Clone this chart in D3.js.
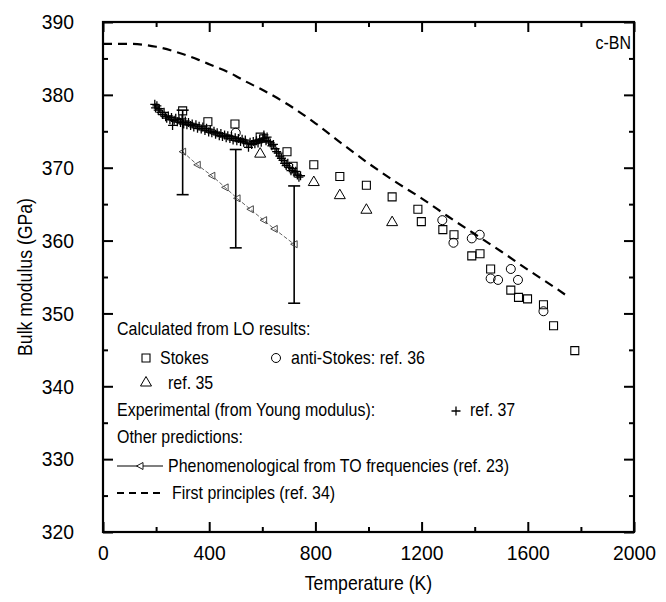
<!DOCTYPE html>
<html>
<head>
<meta charset="utf-8">
<script src="https://cdn.jsdelivr.net/npm/d3@7"></script>
<style>
body { margin: 0; background: #fff; }
text { font-family: "Liberation Sans", Arial, sans-serif; fill: #000; }
</style>
</head>
<body>
<main></main>
<script>
var width = 666;
var height = 602;
var margin = {top: 22, right: 32, bottom: 70, left: 103};

// axis ticks
var xTicks = [0, 400, 800, 1200, 1600, 2000];
var xMinor = [200, 600, 1000, 1400, 1800];
var yTicks = [320, 330, 340, 350, 360, 370, 380, 390];
var yMinor = [325, 335, 345, 355, 365, 375, 385];

// LO results, Stokes (ref. 36)
var stokesT = [300, 395, 497, 592, 693, 716, 794, 892, 992, 1089, 1186, 1199, 1280, 1322, 1389, 1420, 1460, 1536, 1565, 1599, 1659, 1697, 1777];
var stokesB = [377.8, 376.3, 376.0, 374.2, 372.2, 370.2, 370.4, 368.8, 367.6, 366.0, 364.3, 362.6, 361.5, 360.8, 357.9, 358.2, 356.1, 353.2, 352.2, 352.0, 351.2, 348.3, 344.9];

// LO results, anti-Stokes (ref. 36)
var antiT = [500, 1278, 1320, 1389, 1419, 1460, 1488, 1536, 1563, 1659];
var antiB = [374.8, 362.8, 359.7, 360.3, 360.8, 354.8, 354.6, 356.1, 354.6, 350.3];

// ref. 35
var ref35T = [592, 794, 892, 992, 1089];
var ref35B = [372.0, 368.1, 366.3, 364.3, 362.6];

// experimental, from Young modulus (ref. 37)
var expT = [195, 198, 203, 208, 212, 218, 224, 230, 236, 240, 246, 252, 258, 262, 268, 274, 280, 286, 292, 298,
  304, 310, 316, 322, 330, 336, 342, 350, 356, 362, 370, 376, 384, 390, 398, 404, 410, 418, 424, 430,
  438, 444, 450, 458, 464, 470, 478, 484, 490, 498, 504, 510, 518, 524, 530, 536, 542, 548, 554, 560,
  566, 572, 578, 584, 590, 596, 602, 606, 610, 614, 618, 624, 630, 636, 642, 648, 654, 660, 666, 672,
  678, 684, 690, 696, 702, 708, 714, 720, 726, 732, 738, 744];
var expB = [378.7, 378.2, 378.5, 377.9, 378.1, 377.6, 377.3, 377.6, 377.0, 376.8, 377.1, 376.6, 376.9, 375.8, 376.5, 376.8, 376.3, 376.6, 376.2, 376.7,
  376.0, 376.4, 375.9, 376.2, 375.8, 376.0, 375.6, 375.9, 375.4, 375.7, 375.3, 375.6, 375.1, 375.4, 374.9, 375.2, 374.8, 375.0, 374.6, 374.8,
  374.4, 374.7, 374.3, 374.5, 374.1, 374.4, 374.0, 374.3, 373.8, 374.1, 373.7, 374.0, 373.6, 373.9, 373.5, 373.8, 373.3, 372.8, 373.5, 373.2,
  373.6, 373.3, 373.7, 373.4, 373.9, 373.5, 374.0, 374.5, 374.1, 373.7, 374.2, 373.6, 373.4, 373.0, 373.2, 372.6, 372.2, 372.0, 371.6, 371.3,
  371.0, 370.6, 370.3, 370.6, 370.0, 369.6, 369.9, 369.3, 369.5, 369.0, 368.7, 368.9];

// phenomenological from TO frequencies (ref. 23)
var phenT = [300, 355, 410, 460, 505, 555, 605, 645, 720];
var phenB = [372.2, 370.4, 368.9, 367.3, 365.8, 364.3, 362.8, 361.6, 359.5];
var errT = [300, 500, 720];
var errLow = [366.3, 359.0, 351.4];
var errHigh = [377.9, 372.5, 367.5];

// first principles (ref. 34)
var fpT = [0, 100, 200, 300, 360, 400, 500, 529, 600, 700, 800, 900, 1000, 1100, 1200, 1300, 1400, 1500, 1600, 1700, 1740];
var fpB = [387.0, 387.0, 386.6, 385.6, 384.8, 384.2, 382.6, 382.0, 380.7, 378.6, 376.1, 373.3, 370.6, 368.1, 365.8, 363.3, 360.9, 358.5, 356.0, 353.6, 352.6];

var svg = d3.select('main').append('svg')
  .attr('width', width)
  .attr('height', height);

svg.append('rect')
  .attr('width', width)
  .attr('height', height)
  .attr('fill', '#fff');

var x = d3.scaleLinear().domain([0, 2000]).range([margin.left, width - margin.right]);
var y = d3.scaleLinear().domain([320, 390]).range([height - margin.bottom, margin.top]);

function zip(a, b) {
  return a.map(function(v, i) { return [v, b[i]]; });
}

// ticks on all four sides, pointing inwards
function addAxis(axis, tx, ty, values, size, labels, pad) {
  var g = svg.append('g')
    .attr('transform', 'translate(' + tx + ',' + ty + ')')
    .call(axis.tickValues(values).tickSize(-size).tickPadding(pad || 4)
      .tickFormat(labels ? d3.format('d') : ''));
  g.select('.domain').remove();
  g.selectAll('.tick line').attr('stroke', '#000').attr('stroke-width', 2);
  g.selectAll('.tick text').style('font-size', '21px').attr('fill', '#000').classed('tk', true);
  return g;
}

var bottom = height - margin.bottom, right = width - margin.right;
addAxis(d3.axisBottom(x), 0, bottom, xTicks, 10, true, 13);
addAxis(d3.axisBottom(x), 0, bottom, xMinor, 5, false);
addAxis(d3.axisTop(x), 0, margin.top, xTicks, 10, false);
addAxis(d3.axisTop(x), 0, margin.top, xMinor, 5, false);
addAxis(d3.axisLeft(y), margin.left, 0, yTicks, 10, true, 29);
addAxis(d3.axisLeft(y), margin.left, 0, yMinor, 5, false);
addAxis(d3.axisRight(y), right, 0, yTicks, 10, false);
addAxis(d3.axisRight(y), right, 0, yMinor, 5, false);

svg.append('rect')
  .attr('x', margin.left)
  .attr('y', margin.top)
  .attr('width', right - margin.left)
  .attr('height', bottom - margin.top)
  .attr('fill', 'none')
  .attr('stroke', '#000')
  .attr('stroke-width', 2.2);

// axis titles
svg.append('text')
  .attr('x', (margin.left + right) / 2)
  .attr('y', 590)
  .attr('text-anchor', 'middle')
  .style('font-size', '21px')
  .text('Temperature (K)');

svg.append('text')
  .attr('transform', 'translate(32,' + (margin.top + bottom) / 2 + ') rotate(-90)')
  .attr('text-anchor', 'middle')
  .style('font-size', '21px')
  .text('Bulk modulus (GPa)');

svg.append('text')
  .attr('x', 631)
  .attr('y', 49)
  .attr('text-anchor', 'end')
  .style('font-size', '19px')
  .text('c-BN');

var line = d3.line()
  .x(function(d) { return x(d[0]); })
  .y(function(d) { return y(d[1]); });

// first principles curve
svg.append('path')
  .datum(zip(fpT, fpB))
  .attr('d', line.curve(d3.curveMonotoneX))
  .attr('fill', 'none')
  .attr('stroke', '#000')
  .attr('stroke-width', 2.2)
  .attr('stroke-dasharray', '9,6');

// marker shapes
var sqPath = 'M-4,-4H4V4H-4Z';
var triPath = 'M0,-5.5L5.5,4L-5.5,4Z';
var leftTri = 'M-3.5,0L3,-3.5L3,3.5Z';
var crossPath = 'M-4.5,0H4.5M0,-4.5V4.5';

function markers(t, b, path, stroke, sw) {
  svg.append('g').selectAll('path')
    .data(zip(t, b))
    .enter().append('path')
    .attr('transform', function(d) { return 'translate(' + x(d[0]) + ',' + y(d[1]) + ')'; })
    .attr('d', path)
    .attr('fill', 'none')
    .attr('stroke', stroke)
    .attr('stroke-width', sw);
}

// phenomenological line + error bars
svg.append('path')
  .datum(zip(phenT, phenB))
  .attr('d', line.curve(d3.curveLinear))
  .attr('fill', 'none')
  .attr('stroke', '#555')
  .attr('stroke-width', 0.9)
  .attr('stroke-dasharray', '4,2');

var eb = svg.append('g').attr('stroke', '#000').attr('stroke-width', 1.6);
errT.forEach(function(t, i) {
  eb.append('line').attr('x1', x(t)).attr('x2', x(t)).attr('y1', y(errLow[i])).attr('y2', y(errHigh[i]));
  [errLow[i], errHigh[i]].forEach(function(v) {
    eb.append('line').attr('x1', x(t) - 6).attr('x2', x(t) + 6).attr('y1', y(v)).attr('y2', y(v));
  });
});

markers(phenT, phenB, leftTri, '#333', 0.9);
markers(expT, expB, crossPath, '#000', 1.3);
markers(stokesT, stokesB, sqPath, '#000', 1.1);
markers(ref35T, ref35B, triPath, '#000', 1.0);

svg.append('g').selectAll('circle')
  .data(zip(antiT, antiB))
  .enter().append('circle')
  .attr('cx', function(d) { return x(d[0]); })
  .attr('cy', function(d) { return y(d[1]); })
  .attr('r', 4.5)
  .attr('fill', 'none')
  .attr('stroke', '#000')
  .attr('stroke-width', 1.0);

// legend
var leg = svg.append('g').style('font-size', '19px');
function legText(tx, ty, s) {
  leg.append('text').attr('x', tx).attr('y', ty).text(s);
}
function legMark(tx, ty, path, sw) {
  leg.append('path').attr('transform', 'translate(' + tx + ',' + ty + ')')
    .attr('d', path).attr('fill', 'none').attr('stroke', '#000').attr('stroke-width', sw);
}
legText(117, 335, 'Calculated from LO results:');
legMark(146, 358, sqPath, 1.1);
legText(160, 364, 'Stokes');
leg.append('circle').attr('cx', 276).attr('cy', 358).attr('r', 4.5)
  .attr('fill', 'none').attr('stroke', '#000');
legText(291, 364, 'anti-Stokes:  ref. 36');
legMark(146, 382, triPath, 1.0);
legText(168, 389, 'ref. 35');
legText(117, 416, 'Experimental (from Young modulus):');
legMark(456, 411, crossPath, 1.3);
legText(470, 416, 'ref. 37');
legText(117, 443, 'Other predictions:');
leg.append('line').attr('x1', 117).attr('x2', 163).attr('y1', 466).attr('y2', 466)
  .attr('stroke', '#000').attr('stroke-width', 1.2);
leg.append('path').attr('transform', 'translate(140,466)').attr('d', leftTri)
  .attr('fill', '#fff').attr('stroke', '#000').attr('stroke-width', 0.9);
legText(168, 472, 'Phenomenological from TO frequencies (ref. 23)');
leg.append('line').attr('x1', 117).attr('x2', 165).attr('y1', 493).attr('y2', 493)
  .attr('stroke', '#000').attr('stroke-width', 2.2).attr('stroke-dasharray', '7,5');
legText(172, 499, 'First principles (ref. 34)');

// the original uses a condensed face: squeeze glyphs horizontally
svg.selectAll('text').each(function() {
  var t = d3.select(this);
  var k = t.classed('tk') ? 0.92 : 0.84;
  var len = this.getComputedTextLength();
  if (len > 0) t.attr('textLength', len * k).attr('lengthAdjust', 'spacingAndGlyphs');
});
</script>
</body>
</html>
